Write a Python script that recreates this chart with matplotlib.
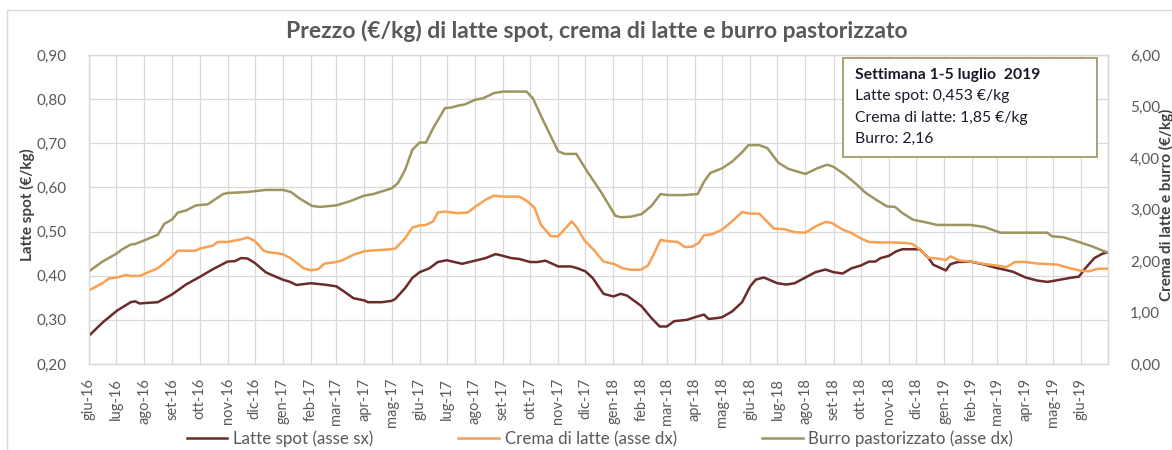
import matplotlib
matplotlib.use('Agg')
import matplotlib.pyplot as plt
import matplotlib.dates as mdates
import matplotlib.patches as patches
from matplotlib.ticker import FuncFormatter, MultipleLocator
import pandas as pd

plt.rcParams['font.family'] = ['Lato', 'DejaVu Sans']

# Latte spot (asse sx), EUR/kg
latte_dates = [
    '2016-06-01', '2016-06-16', '2016-07-02', '2016-07-17', '2016-07-22', '2016-07-27',
    '2016-08-01', '2016-08-16', '2016-09-01', '2016-09-16', '2016-10-01', '2016-10-16',
    '2016-11-01', '2016-11-09', '2016-11-16', '2016-11-23', '2016-12-01', '2016-12-13',
    '2016-12-16', '2017-01-01', '2017-01-09', '2017-01-16', '2017-02-01', '2017-02-15',
    '2017-03-01', '2017-03-09', '2017-03-20', '2017-04-01', '2017-04-05', '2017-04-20',
    '2017-05-01', '2017-05-05', '2017-05-16', '2017-05-24', '2017-06-01', '2017-06-12',
    '2017-06-21', '2017-07-01', '2017-07-18', '2017-08-01', '2017-08-13', '2017-08-24',
    '2017-09-01', '2017-09-10', '2017-09-19', '2017-10-01', '2017-10-09', '2017-10-18',
    '2017-11-01', '2017-11-15', '2017-11-22', '2017-12-01', '2017-12-09', '2017-12-14',
    '2017-12-21', '2018-01-01', '2018-01-09', '2018-01-16', '2018-02-01', '2018-02-12',
    '2018-02-21', '2018-03-01', '2018-03-09', '2018-03-23', '2018-04-01', '2018-04-11',
    '2018-04-16', '2018-04-25', '2018-05-01', '2018-05-12', '2018-05-23', '2018-06-01',
    '2018-06-07', '2018-06-16', '2018-07-01', '2018-07-11', '2018-07-20', '2018-08-01',
    '2018-08-12', '2018-08-23', '2018-09-01', '2018-09-11', '2018-09-21', '2018-10-01',
    '2018-10-10', '2018-10-17', '2018-10-23', '2018-11-01', '2018-11-09', '2018-11-16',
    '2018-12-05', '2018-12-15', '2018-12-20', '2019-01-03', '2019-01-08', '2019-01-16',
    '2019-01-30', '2019-02-15', '2019-03-01', '2019-03-08', '2019-03-18', '2019-04-01',
    '2019-04-14', '2019-04-25', '2019-05-01', '2019-05-09', '2019-05-20', '2019-05-30',
    '2019-06-06', '2019-06-16', '2019-06-25', '2019-07-01',
]
latte_values = [
    0.264, 0.294, 0.321, 0.340, 0.342, 0.337,
    0.338, 0.340, 0.358, 0.380, 0.397, 0.415,
    0.432, 0.433, 0.440, 0.439, 0.429, 0.408,
    0.405, 0.391, 0.386, 0.379, 0.383, 0.380,
    0.376, 0.365, 0.349, 0.344, 0.340, 0.340,
    0.343, 0.347, 0.372, 0.395, 0.408, 0.417,
    0.431, 0.435, 0.427, 0.434, 0.440, 0.449,
    0.445, 0.440, 0.438, 0.431, 0.431, 0.434,
    0.421, 0.421, 0.417, 0.410, 0.395, 0.380,
    0.359, 0.353, 0.359, 0.355, 0.331, 0.304,
    0.285, 0.285, 0.297, 0.300, 0.306, 0.312,
    0.302, 0.304, 0.306, 0.319, 0.340, 0.376,
    0.391, 0.396, 0.383, 0.380, 0.383, 0.396,
    0.408, 0.414, 0.408, 0.405, 0.417, 0.423,
    0.432, 0.432, 0.440, 0.445, 0.455, 0.460,
    0.460, 0.440, 0.425, 0.412, 0.426, 0.431,
    0.432, 0.425, 0.417, 0.414, 0.409, 0.396,
    0.389, 0.386, 0.388, 0.391, 0.395, 0.398,
    0.417, 0.440, 0.450, 0.453,
]

# Crema di latte (asse dx), EUR/kg
crema_dates = [
    '2016-06-01', '2016-06-16', '2016-06-23', '2016-07-02', '2016-07-12', '2016-07-17',
    '2016-07-27', '2016-08-01', '2016-08-16', '2016-09-01', '2016-09-07', '2016-09-27',
    '2016-10-01', '2016-10-16', '2016-10-21', '2016-11-01', '2016-11-16', '2016-11-23',
    '2016-12-01', '2016-12-11', '2016-12-16', '2016-12-26', '2017-01-01', '2017-01-09',
    '2017-01-24', '2017-02-01', '2017-02-09', '2017-02-16', '2017-03-01', '2017-03-07',
    '2017-03-20', '2017-04-01', '2017-04-14', '2017-04-25', '2017-05-05', '2017-05-16',
    '2017-05-24', '2017-06-01', '2017-06-08', '2017-06-16', '2017-06-21', '2017-06-29',
    '2017-07-12', '2017-07-24', '2017-08-02', '2017-08-13', '2017-08-22', '2017-09-01',
    '2017-09-19', '2017-09-28', '2017-10-06', '2017-10-13', '2017-10-24', '2017-11-01',
    '2017-11-16', '2017-11-22', '2017-11-30', '2017-12-10', '2017-12-21', '2018-01-02',
    '2018-01-11', '2018-01-20', '2018-01-31', '2018-02-08', '2018-02-15', '2018-02-22',
    '2018-03-04', '2018-03-13', '2018-03-21', '2018-03-29', '2018-04-05', '2018-04-11',
    '2018-04-20', '2018-05-01', '2018-05-12', '2018-05-23', '2018-06-01', '2018-06-11',
    '2018-06-27', '2018-07-08', '2018-07-20', '2018-08-01', '2018-08-12', '2018-08-23',
    '2018-08-30', '2018-09-11', '2018-09-21', '2018-10-01', '2018-10-10', '2018-10-23',
    '2018-11-05', '2018-11-20', '2018-11-27', '2018-12-05', '2018-12-15', '2018-12-24',
    '2019-01-03', '2019-01-08', '2019-01-18', '2019-01-30', '2019-02-15', '2019-03-01',
    '2019-03-11', '2019-03-20', '2019-04-01', '2019-04-14', '2019-05-06', '2019-05-20',
    '2019-06-01', '2019-06-10', '2019-06-20', '2019-07-01',
]
crema_values = [
    1.43, 1.57, 1.66, 1.68, 1.73, 1.71,
    1.71, 1.75, 1.86, 2.09, 2.20, 2.20,
    2.24, 2.30, 2.37, 2.37, 2.42, 2.46,
    2.39, 2.20, 2.17, 2.15, 2.13, 2.06,
    1.86, 1.82, 1.84, 1.95, 1.98, 2.01,
    2.12, 2.19, 2.21, 2.22, 2.24, 2.44,
    2.65, 2.69, 2.70, 2.77, 2.94, 2.96,
    2.93, 2.94, 3.06, 3.19, 3.27, 3.25,
    3.25, 3.16, 3.03, 2.70, 2.48, 2.48,
    2.77, 2.64, 2.40, 2.22, 1.99, 1.94,
    1.86, 1.83, 1.83, 1.91, 2.15, 2.41,
    2.38, 2.37, 2.27, 2.28, 2.35, 2.50,
    2.52, 2.61, 2.77, 2.95, 2.92, 2.92,
    2.63, 2.62, 2.56, 2.55, 2.67, 2.76,
    2.74, 2.61, 2.54, 2.44, 2.37, 2.36,
    2.36, 2.35, 2.33, 2.23, 2.06, 2.05,
    2.02, 2.09, 2.01, 1.99, 1.94, 1.91,
    1.88, 1.98, 1.98, 1.95, 1.93, 1.86,
    1.81, 1.80, 1.85, 1.85,
]

# Burro pastorizzato (asse dx), EUR/kg
burro_dates = [
    '2016-06-01', '2016-06-16', '2016-07-02', '2016-07-07', '2016-07-17', '2016-07-22',
    '2016-08-01', '2016-08-16', '2016-08-23', '2016-09-01', '2016-09-07', '2016-09-16',
    '2016-09-27', '2016-10-10', '2016-10-16', '2016-10-27', '2016-11-01', '2016-11-23',
    '2016-12-13', '2017-01-01', '2017-01-10', '2017-01-19', '2017-02-02', '2017-02-11',
    '2017-03-01', '2017-03-16', '2017-04-01', '2017-04-11', '2017-04-20', '2017-05-01',
    '2017-05-08', '2017-05-16', '2017-05-24', '2017-06-01', '2017-06-08', '2017-06-16',
    '2017-06-29', '2017-07-06', '2017-07-14', '2017-07-21', '2017-08-01', '2017-08-10',
    '2017-08-22', '2017-09-01', '2017-09-27', '2017-10-04', '2017-10-17', '2017-11-01',
    '2017-11-08', '2017-11-21', '2017-12-03', '2017-12-19', '2018-01-03', '2018-01-09',
    '2018-01-20', '2018-02-01', '2018-02-12', '2018-02-22', '2018-03-02', '2018-03-20',
    '2018-04-04', '2018-04-11', '2018-04-18', '2018-05-01', '2018-05-12', '2018-05-23',
    '2018-05-30', '2018-06-11', '2018-06-20', '2018-07-02', '2018-07-13', '2018-08-01',
    '2018-08-14', '2018-08-25', '2018-09-01', '2018-09-14', '2018-09-25', '2018-10-06',
    '2018-10-17', '2018-10-30', '2018-11-08', '2018-11-16', '2018-11-28', '2018-12-15',
    '2018-12-24', '2019-01-30', '2019-02-15', '2019-03-04', '2019-04-25', '2019-04-30',
    '2019-05-13', '2019-05-28', '2019-06-14', '2019-07-01',
]
burro_values = [
    1.80, 1.99, 2.15, 2.22, 2.32, 2.33,
    2.40, 2.51, 2.72, 2.81, 2.94, 2.98,
    3.08, 3.10, 3.17, 3.30, 3.32, 3.34,
    3.38, 3.38, 3.34, 3.22, 3.07, 3.05,
    3.08, 3.16, 3.27, 3.30, 3.35, 3.41,
    3.51, 3.77, 4.16, 4.30, 4.30, 4.58,
    4.97, 4.98, 5.02, 5.04, 5.13, 5.16,
    5.26, 5.29, 5.29, 5.16, 4.67, 4.13,
    4.08, 4.08, 3.74, 3.32, 2.88, 2.85,
    2.86, 2.91, 3.07, 3.30, 3.28, 3.28,
    3.30, 3.54, 3.71, 3.80, 3.93, 4.11,
    4.25, 4.25, 4.19, 3.91, 3.79, 3.69,
    3.80, 3.87, 3.83, 3.67, 3.51, 3.33,
    3.20, 3.06, 3.05, 2.93, 2.80, 2.74,
    2.70, 2.70, 2.66, 2.55, 2.55, 2.48,
    2.46, 2.38, 2.28, 2.16,
]

mesi = ['gen', 'feb', 'mar', 'apr', 'mag', 'giu', 'lug', 'ago', 'set', 'ott', 'nov', 'dic']

title = 'Prezzo (€/kg) di latte spot, crema di latte e burro pastorizzato'
box_lines = ['Settimana 1-5 luglio  2019', 'Latte spot: 0,453 €/kg',
             'Crema di latte: 1,85 €/kg', 'Burro: 2,16']

col_latte = '#6B2B2B'
col_crema = '#F9A052'
col_burro = '#9C9562'
grid_col = '#D9D9D9'
text_col = '#595959'

W, H = 1172, 450
fig = plt.figure(figsize=(W / 100, H / 100), dpi=100)

# outer chart border
fig.patches.append(patches.Rectangle((7 / W, -0.5), 2, 1.5 - 10 / H, transform=fig.transFigure,
                                     fill=False, edgecolor=grid_col, linewidth=1))

ax = fig.add_axes([89 / W, 1 - 364 / H, (1108 - 89) / W, (364 - 55) / H])
ax2 = ax.twinx()

ax.plot(pd.to_datetime(latte_dates), latte_values, color=col_latte, lw=1.8,
        label='Latte spot (asse sx)', zorder=3)
ax2.plot(pd.to_datetime(crema_dates), crema_values, color=col_crema, lw=1.8,
         label='Crema di latte (asse dx)')
ax2.plot(pd.to_datetime(burro_dates), burro_values, color=col_burro, lw=1.8,
         label='Burro pastorizzato (asse dx)')

ax.set_xlim(pd.Timestamp('2016-06-01'), pd.Timestamp('2019-07-01'))
ax.set_ylim(0.2, 0.9)
ax2.set_ylim(0, 6)
ax.yaxis.set_major_locator(MultipleLocator(0.1))
ax2.yaxis.set_major_locator(MultipleLocator(1))
ax.yaxis.set_major_formatter(FuncFormatter(lambda v, _: f'{v:.2f}'.replace('.', ',')))
ax2.yaxis.set_major_formatter(FuncFormatter(lambda v, _: f'{v:.2f}'.replace('.', ',')))

ax.xaxis.set_major_locator(mdates.MonthLocator())
last = mdates.date2num(pd.Timestamp('2019-07-01'))


def mese_fmt(x, pos):
    if x >= last - 1:
        return ''
    d = mdates.num2date(x)
    return f'{mesi[d.month - 1]}-{d.year % 100:02d}'


ax.xaxis.set_major_formatter(FuncFormatter(mese_fmt))
ax.tick_params(axis='x', labelrotation=90, length=0, pad=10, labelsize=10.5, labelcolor=text_col)
ax.tick_params(axis='y', length=0, pad=16, labelsize=11, labelcolor=text_col)
ax2.tick_params(axis='y', length=0, pad=16, labelsize=11, labelcolor=text_col)

ax.grid(True, color=grid_col, linewidth=0.9)
ax.set_axisbelow(True)
for a in (ax, ax2):
    for s in a.spines.values():
        s.set_color(grid_col)
        s.set_linewidth(0.9)

fig.text(0.509, 1 - 31 / H, title, ha='center', va='center', fontsize=16.5,
         fontweight='bold', color=text_col)
fig.text(27 / W, 1 - 205 / H, 'Latte spot (€/kg)', rotation=90, ha='center', va='center',
         fontsize=11, fontweight='bold', color='#404040')
fig.text(1166 / W, 1 - 205 / H, 'Crema di latte e burro (€/kg)', rotation=90, ha='center',
         va='center', fontsize=11, fontweight='bold', color='#404040')

# info box
fig.patches.append(patches.Rectangle((843 / W, 1 - 157 / H), (1097 - 843) / W, (157 - 58) / H,
                                     transform=fig.transFigure, facecolor='white',
                                     edgecolor='#A39A6A', linewidth=1.3, zorder=5))
for i, line in enumerate(box_lines):
    fig.text(855 / W, 1 - (75 + i * 21.3) / H, line, ha='left', va='center', fontsize=11.3,
             fontweight='bold' if i == 0 else 'normal', color='#1A1A2A', zorder=6)

handles = ax.get_lines() + ax2.get_lines()
fig.legend(handles, [h.get_label() for h in handles], loc='center', ncol=3,
           bbox_to_anchor=(0.512, 1 - 439 / H), frameon=False, fontsize=12.2,
           handlelength=2.4, handletextpad=0.35, columnspacing=5.0, labelcolor=text_col,
           borderpad=0.2)

fig.savefig('out.png', dpi=100)
